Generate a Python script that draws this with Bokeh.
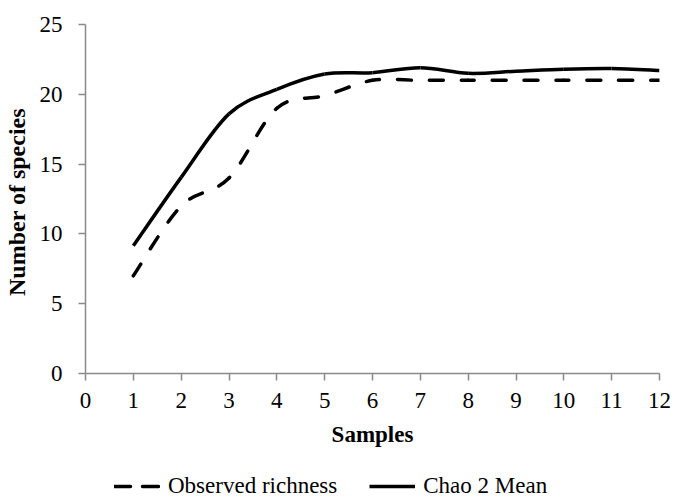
from bokeh.plotting import figure
from bokeh.layouts import column
from bokeh.models import Legend, LegendItem, Range1d, FixedTicker, ColumnDataSource
from bokeh.embed import file_html
from bokeh.resources import INLINE

# ---- data ----
samples = [1, 2, 3, 4, 5, 6, 7, 8, 9, 10, 11, 12]
observed_richness = [7.0, 12.0, 14.0, 19.0, 19.9, 21.0, 21.0, 21.0, 21.0, 21.0, 21.0, 21.0]
chao2_mean = [9.15, 14.05, 18.6, 20.35, 21.45, 21.55, 21.9, 21.5, 21.65, 21.8, 21.85, 21.7]
x_ticks = list(range(0, 13))
y_ticks = [0, 5, 10, 15, 20, 25]
series_labels = ["Observed richness", "Chao 2 Mean"]

FONT = "Liberation Serif"
W = 672
BL, BR, BT, BB = 77, 13, 24, 90
FW, FH = W - BL - BR, 349
H1 = BT + FH + BB
H2 = 40
SX, SY = FW / 12.0, FH / 25.0
DASH_PERIOD = 32


def smooth_segments(xs, ys):
    """Bezier segments with Catmull-Rom style control points (Excel-like smoothing)."""
    n = len(xs)
    d = dict(x0=[], y0=[], x1=[], y1=[], cx0=[], cy0=[], cx1=[], cy1=[], off=[])
    cum = 0.0
    for i in range(n - 1):
        pm = max(i - 1, 0)
        pp = min(i + 2, n - 1)
        d["x0"].append(xs[i]); d["y0"].append(ys[i])
        d["x1"].append(xs[i + 1]); d["y1"].append(ys[i + 1])
        d["cx0"].append(xs[i] + (xs[i + 1] - xs[pm]) / 6.0)
        d["cy0"].append(ys[i] + (ys[i + 1] - ys[pm]) / 6.0)
        d["cx1"].append(xs[i + 1] - (xs[pp] - xs[i]) / 6.0)
        d["cy1"].append(ys[i + 1] - (ys[pp] - ys[i]) / 6.0)
        d["off"].append(int(round(cum)) % DASH_PERIOD)
        dx = (xs[i + 1] - xs[i]) * SX
        dy = (ys[i + 1] - ys[i]) * SY
        cum += (dx * dx + dy * dy) ** 0.5
    return ColumnDataSource(d)


p = figure(width=W, height=H1, output_backend="svg", toolbar_location=None,
           x_range=Range1d(0, 12), y_range=Range1d(0, 25),
           min_border_left=BL, min_border_right=BR, min_border_top=BT, min_border_bottom=BB)
p.outline_line_color = None
p.xgrid.visible = False
p.ygrid.visible = False
p.background_fill_color = "white"
p.border_fill_color = "white"

src_obs = smooth_segments(samples, observed_richness)
src_chao = smooth_segments(samples, chao2_mean)

p.bezier(x0="x0", y0="y0", x1="x1", y1="y1", cx0="cx0", cy0="cy0", cx1="cx1", cy1="cy1",
         source=src_obs, line_color="black", line_width=3.5, line_dash="14 18",
         line_dash_offset="off", line_cap="round")
p.bezier(x0="x0", y0="y0", x1="x1", y1="y1", cx0="cx0", cy0="cy0", cx1="cx1", cy1="cy1",
         source=src_chao, line_color="black", line_width=3.5)

for ax in (p.xaxis[0], p.yaxis[0]):
    ax.axis_line_color = "#8a8a8a"
    ax.axis_line_width = 1.5
    ax.major_tick_line_color = "#8a8a8a"
    ax.major_tick_line_width = 1.5
    ax.major_tick_out = 7
    ax.major_tick_in = 0
    ax.minor_tick_out = 0
    ax.minor_tick_in = 0
    ax.major_label_text_font = FONT
    ax.major_label_text_font_size = "23px"
    ax.major_label_text_color = "black"
    ax.axis_label_text_font = FONT
    ax.axis_label_text_font_size = "23px"
    ax.axis_label_text_font_style = "bold"
    ax.axis_label_text_color = "black"

p.yaxis.axis_label_text_font_size = "24px"
p.xaxis.ticker = FixedTicker(ticks=x_ticks)
p.yaxis.ticker = FixedTicker(ticks=y_ticks)
p.xaxis.axis_label = "Samples"
p.yaxis.axis_label = "Number  of species"
p.xaxis.major_label_standoff = 12
p.yaxis.major_label_standoff = 16
p.xaxis.axis_label_standoff = 11
p.yaxis.axis_label_standoff = 7

# ---- legend strip below the chart ----
q = figure(width=W, height=H2, output_backend="svg", toolbar_location=None,
           x_range=Range1d(0, 12), y_range=Range1d(100, 101),
           min_border_left=0, min_border_right=0, min_border_top=0, min_border_bottom=0)
q.axis.visible = False
q.xgrid.visible = False
q.ygrid.visible = False
q.outline_line_color = None
q.border_fill_color = "white"
q.background_fill_color = "white"
lg_obs = q.line(samples, observed_richness, line_color="black", line_width=3.5,
                line_dash="16 12", line_cap="round")
lg_chao = q.line(samples, chao2_mean, line_color="black", line_width=3.5)

legend = Legend(items=[LegendItem(label=series_labels[0], renderers=[lg_obs]),
                       LegendItem(label=series_labels[1], renderers=[lg_chao])],
                orientation="horizontal", location=(29, 4),
                glyph_width=46, glyph_height=24, label_height=24,
                label_standoff=8, spacing=32, padding=0, margin=0,
                border_line_color=None, background_fill_alpha=0,
                label_text_font=FONT, label_text_font_size="23px", label_text_color="black")
q.add_layout(legend, "center")

layout = column(p, q, spacing=0)
open("out.html", "w").write(file_html(layout, INLINE))
